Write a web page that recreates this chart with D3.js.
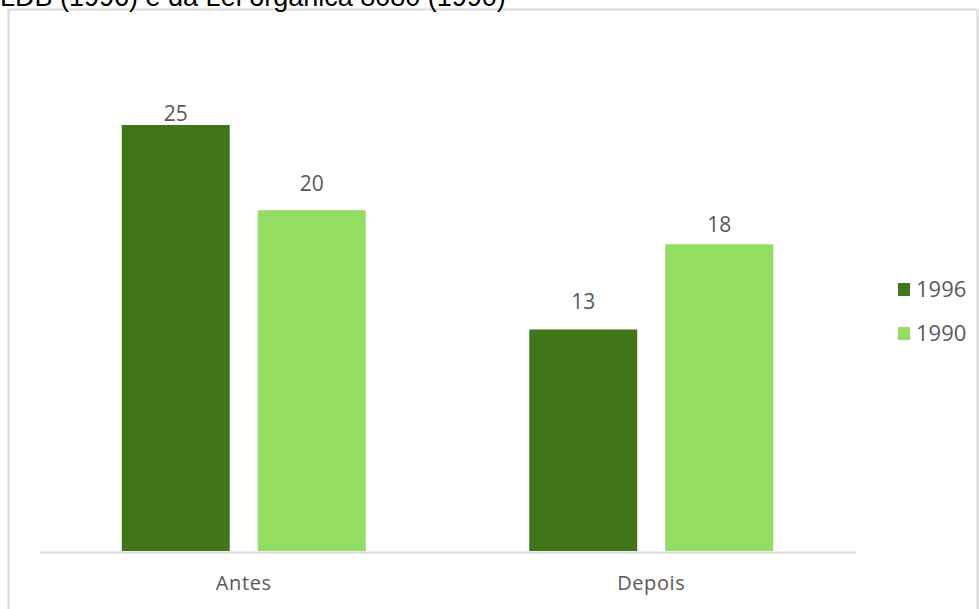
<!DOCTYPE html>
<html><head><meta charset="utf-8">
<script src="https://cdn.jsdelivr.net/npm/d3@7"></script>
<style>body{margin:0;background:#fff;overflow:hidden}svg{display:block}</style>
</head><body>
<script>
const categories = ["Antes", "Depois"];
const seriesNames = ["1996", "1990"];
const values1996 = [25, 13];
const values1990 = [20, 18];
const colors = ["#407618", "#93DD63"];
const titleText = "LDB (1996) e da Lei orgânica 8080 (1990)";
// label lift above bar top (px), per category: [1996, 1990]
const labelLift = [[4, 19], [20, 12]];

const W = 979, H = 609;
const svg = d3.select("body").append("svg").attr("width", W).attr("height", H);

// frame
svg.append("rect").attr("x", 8.5).attr("y", 9.5).attr("width", 969).attr("height", 640)
  .attr("fill", "none").attr("stroke", "#d9d9d9").attr("stroke-width", 2);

// cut-off title (cropped in the reference too)
svg.append("text").attr("x", 0).attr("y", 6).attr("font-family", "Liberation Sans, Arial, sans-serif")
  .attr("font-size", 27).attr("fill", "#000").text(titleText);

const x0 = d3.scaleBand().domain(categories).range([40, 855]);
const x1 = d3.scaleBand().domain(seriesNames).range([0, x0.bandwidth()]).paddingInner(0.206).paddingOuter(0.601);
const y = d3.scaleLinear().domain([0, 30]).range([551, 551 - 30 * 17.04]);

const data = categories.map((c, i) => ({cat: c, i, vals: [values1996[i], values1990[i]]}));

const g = svg.selectAll("g.cat").data(data).join("g").attr("transform", d => `translate(${x0(d.cat)},0)`);
g.selectAll("rect").data(d => d.vals.map((v, j) => ({s: seriesNames[j], v, j, i: d.i})))
  .join("rect")
  .attr("x", d => x1(d.s)).attr("width", x1.bandwidth())
  .attr("y", d => y(d.v)).attr("height", d => y(0) - y(d.v))
  .attr("fill", d => colors[d.j]);
g.selectAll("text").data(d => d.vals.map((v, j) => ({s: seriesNames[j], v, j, i: d.i})))
  .join("text")
  .attr("x", d => x1(d.s) + x1.bandwidth() / 2).attr("y", d => y(d.v) - labelLift[d.i][d.j])
  .attr("text-anchor", "middle").attr("font-family", "Open Sans, sans-serif").attr("font-size", 21)
  .attr("fill", "#595959").text(d => d.v);

// axis
const axis = d3.axisBottom(x0).tickSize(0).tickPadding(24);
const ax = svg.append("g").attr("transform", `translate(0,${y(0)+1})`).call(axis);
ax.select(".domain").attr("stroke", "#d9d9d9").attr("stroke-width", 2);
ax.selectAll("text").attr("font-family", "Open Sans, sans-serif").attr("font-size", 20)
  .attr("letter-spacing", "0.6px").attr("fill", "#595959");

// legend
const lg = svg.selectAll("g.leg").data(seriesNames).join("g")
  .attr("transform", (d, i) => `translate(898,${283 + i * 44})`);
lg.append("rect").attr("width", 12).attr("height", 13).attr("fill", (d, i) => colors[i]);
lg.append("text").attr("x", 18).attr("y", 14).attr("font-family", "Open Sans, sans-serif")
  .attr("font-size", 22).attr("fill", "#595959").text(d => d);
</script>
</body></html>
